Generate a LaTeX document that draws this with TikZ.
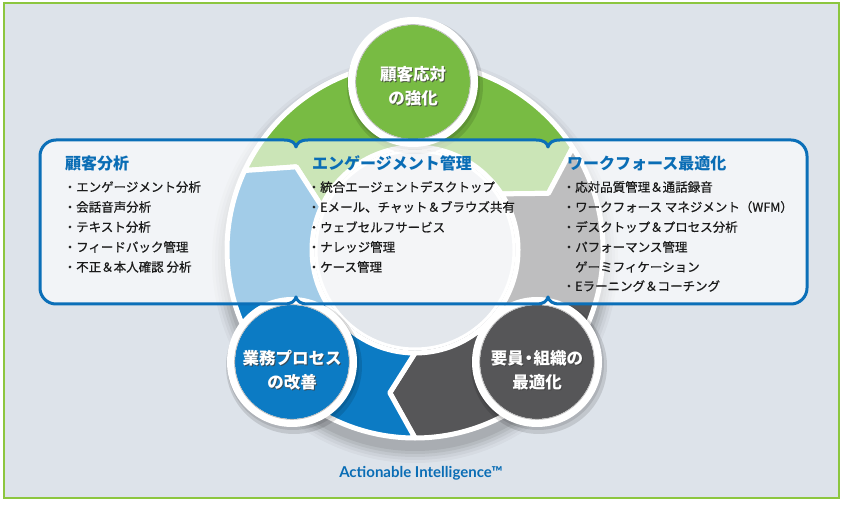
\documentclass[tikz,border=0pt]{standalone}
\usepackage{fontspec}
\setmainfont{Lato}
\newfontfamily\jp{Noto Sans CJK JP}
\newfontfamily\jpm[FakeBold=0.6]{Noto Sans CJK JP}
\newfontfamily\lato{Lato}
\usetikzlibrary{calc}
\definecolor{bgc}{HTML}{DDE3EA}
\definecolor{framec}{HTML}{8CC63F}
\definecolor{rgreen}{HTML}{78BB43}
\definecolor{rblue}{HTML}{0C7BC4}
\definecolor{rgrey}{HTML}{565658}
\definecolor{bandc}{HTML}{0B6FB8}
\definecolor{ttl}{HTML}{0A6DB5}
\definecolor{txt}{HTML}{1A1A1A}
\definecolor{diskc}{HTML}{E3E7EC}
\newcommand\ringseg[3]{%
  \filldraw[seg, fill=#3]
    ($(C)+(#1:188)$) arc[start angle=#1, end angle=#2, radius=188]
    -- ($(C)+({#2-10}:145)$) -- ($(C)+(#2:103)$)
    arc[start angle=#2, end angle=#1, radius=103]
    -- ($(C)+({#1-10}:145)$) -- cycle;}
\begin{document}
\begin{tikzpicture}[x=1pt,y=1pt,
  seg/.style={draw=white, line width=5pt, line join=round},
  ttlstyle/.style={anchor=west, font=\jp\bfseries\fontsize{16}{18}\selectfont, text=ttl, inner sep=0pt},
  itm/.style={anchor=west, font=\jpm\fontsize{12.5}{14}\selectfont, text=txt, inner sep=0pt},
  ctxt/.style={font=\jp\bfseries\fontsize{16.5}{24}\selectfont, align=center, text=white, inner sep=0pt},
  cshad/.style={font=\jp\bfseries\fontsize{16.5}{24}\selectfont, align=center, text=black!75, opacity=0.8, inner sep=0pt},
  bandline/.style={draw=bandc, line width=3pt, line join=round},
]
\useasboundingbox (0,0) rectangle (845,505);
\fill[white] (0,0) rectangle (845,505);
\draw[framec, line width=2pt, fill=bgc] (4,7) rectangle (839,502);

\coordinate (C) at (415,255);
% ring shadow
\foreach \r/\o in {203/0.03,200/0.04,197/0.05,194/0.06,191/0.07}
  \fill[black, opacity=\o] ($(C)+(0,-10)$) circle (\r);

% ring segments
\ringseg{155}{33}{rgreen}
\ringseg{33}{-90}{rgrey}
\ringseg{270}{155}{rblue}

% inner disk
\fill[diskc] (C) circle (99);
\draw[white, line width=3pt] (C) circle (99);

% circles
\coordinate (G) at (413,423);
\coordinate (B) at (292,143);
\coordinate (D) at (537,143);
\foreach \p/\c in {G/rgreen,B/rblue,D/rgrey}{
  \fill[black, opacity=0.12] ($(\p)+(2,-4)$) circle (68);
  \fill[black, opacity=0.10] ($(\p)+(1,-2)$) circle (66);
  \fill[white] (\p) circle (65);
  \fill[\c] (\p) circle (57);
  \draw[black!25, line width=0.8pt] (\p) circle (57.4);
}

% band
\path[fill=white, fill opacity=0.62, bandline]
  (56,365) -- (284,365) .. controls (292,365) and (295,362) .. (296,358)
  .. controls (297,362) and (300,365) .. (308,365)
  -- (536,365) .. controls (544,365) and (547,362) .. (548,358)
  .. controls (549,362) and (552,365) .. (560,365)
  -- (791,365) arc[start angle=90, end angle=0, radius=16]
  -- (807,217) arc[start angle=0, end angle=-90, radius=16]
  -- (560,201) .. controls (552,201) and (549,204) .. (548,208)
  .. controls (547,204) and (544,201) .. (536,201)
  -- (308,201) .. controls (300,201) and (297,204) .. (296,208)
  .. controls (295,204) and (292,201) .. (284,201)
  -- (56,201) arc[start angle=270, end angle=180, radius=16]
  -- (40,349) arc[start angle=180, end angle=90, radius=16] -- cycle;

% circle texts
\node[cshad] (gs) at (414,417.5) {顧客応対\\の強化};
\node[ctxt] (gt) at (413,418.5) {顧客応対\\の強化};
\node[cshad] (bs) at (293,134) {業務プロセス\\の改善};
\node[ctxt] (bt) at (292,135) {業務プロセス\\の改善};
\node[cshad] (ds) at (538,134) {要員\kern-.2em・\kern-.2em 組織の\\最適化};
\node[ctxt] (dt) at (537,135) {要員\kern-.2em・\kern-.2em 組織の\\最適化};

% left column
\node[ttlstyle] (t1) at (65,342) {顧客分析};
\node[itm] (a1) at (63.5,318) {・エンゲージメント分析};
\node[itm] (a2) at (63.5,298) {・会話音声分析};
\node[itm] (a3) at (63.5,278) {・テキスト分析};
\node[itm] (a4) at (63.5,258) {・フィードバック管理};
\node[itm] (a5) at (63.5,238) {・不正＆本人確認 分析};

% middle column
\node[ttlstyle] (t2) at (312,342) {エンゲージメント管理};
\node[itm] (b1) at (307.5,318) {・統合エージェントデスクトップ};
\node[itm] (b2) at (307.5,298) {・Eメール、チャット＆ブラウズ共有};
\node[itm] (b3) at (307.5,278) {・ウェブセルフサービス};
\node[itm] (b4) at (307.5,258) {・ナレッジ管理};
\node[itm] (b5) at (307.5,238) {・ケース管理};

% right column
\node[ttlstyle] (t3) at (567,342) {ワークフォース最適化};
\node[itm] (c1) at (562.5,318) {・応対品質管理＆通話録音};
\node[itm] (c2) at (562.5,298) {・ワークフォース マネジメント（WFM）};
\node[itm] (c3) at (562.5,278) {・デスクトップ＆プロセス分析};
\node[itm] (c4) at (562.5,258) {・パフォーマンス管理};
\node[itm] (c5) at (575,238) {ゲーミフィケーション};
\node[itm] (c6) at (562.5,219) {・Eラーニング＆コーチング};

\node[font=\lato\bfseries\fontsize{15}{18}\selectfont, text=ttl] (ai) at (421,32) {Actionable Intelligence™};
\end{tikzpicture}
\end{document}
